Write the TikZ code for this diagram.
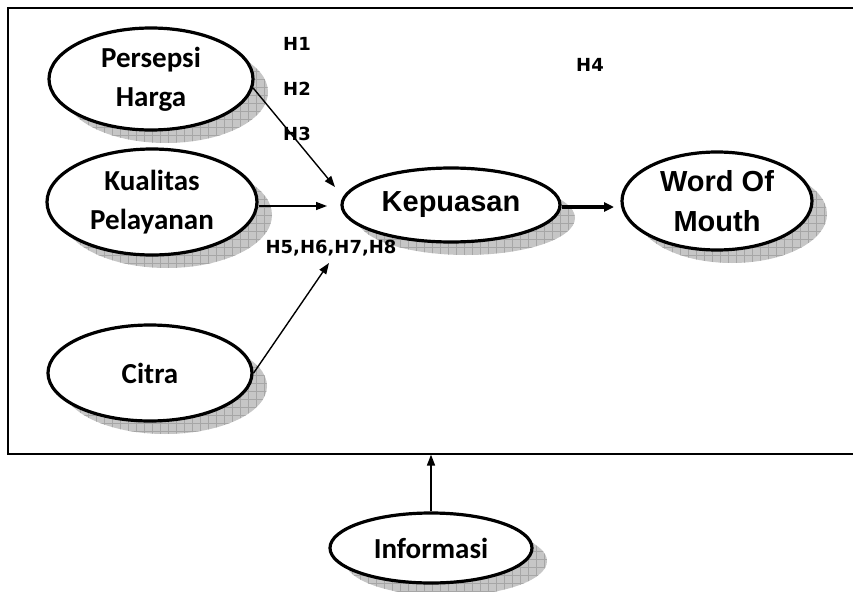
\documentclass[tikz,border=0pt]{standalone}
\usepackage{fontspec}
\setmainfont{Carlito}
\newfontfamily\arialfam{Liberation Sans}
\newfontfamily\verdfam{DejaVu Sans}
\usetikzlibrary{shapes.geometric,arrows.meta,patterns.meta}
\tikzset{
  var/.style={ellipse, draw, line width=3.2pt, fill=white, inner sep=0pt, align=center,
    font=\fontsize{29}{39}\selectfont\bfseries},
  avar/.style={var, font=\arialfam\fontsize{29}{40}\selectfont\bfseries},
  shadowfill/.style={fill=gray!45},
  shadowgridh/.style={pattern={Lines[angle=0,distance=8pt,line width=0.5pt]}, pattern color=gray!70},
  shadowgridv/.style={pattern={Lines[angle=90,distance=8pt,line width=0.5pt]}, pattern color=gray!70},
  arr/.style={line width=1.4pt, -{Triangle[length=11pt,width=8pt]}},
  thickarr/.style={line width=3.2pt, -{Triangle[length=10pt,width=9pt]}},
  hlab/.style={font=\verdfam\fontsize{18}{21}\selectfont\bfseries, inner sep=0pt},
  frame/.style={draw, line width=1.6pt, inner sep=0pt}
}
\newcommand{\shadowell}[4]{%
  \fill[shadowfill] (#1+15,#2+13) ellipse [x radius=#3, y radius=#4];
  \fill[shadowgridh] (#1+15,#2+13) ellipse [x radius=#3, y radius=#4];
  \fill[shadowgridv] (#1+15,#2+13) ellipse [x radius=#3, y radius=#4];
}
\begin{document}
\begin{tikzpicture}[x=1pt,y=-1pt]
\useasboundingbox (0,0) rectangle (853,591);
\clip (0,0) rectangle (853,591);
% frame
\node[frame, anchor=north west, minimum width=860pt, minimum height=446pt] (box) at (7,7) {};
% shadows
\shadowell{151}{79}{102}{51}
\shadowell{152}{202}{105}{53}
\shadowell{150}{373}{102}{48}
\shadowell{451}{205}{109}{37}
\shadowell{717}{201}{95}{49}
\shadowell{431}{548}{101}{35}
% variables
\node[var, minimum width=204pt, minimum height=102pt] (p) at (151,79) {Persepsi\\Harga};
\node[var, minimum width=210pt, minimum height=106pt] (k) at (152,202) {Kualitas\\Pelayanan};
\node[var, minimum width=204pt, minimum height=96pt] (c) at (150,373) {Citra};
\node[avar, minimum width=218pt, minimum height=74pt] (kep) at (451,205) {Kepuasan};
\node[avar, minimum width=190pt, minimum height=98pt] (w) at (717,201) {Word Of\\Mouth};
\node[var, minimum width=202pt, minimum height=70pt] (i) at (431,548) {Informasi};
% arrow end points
\coordinate (t1) at (335,187);
\coordinate (t2) at (327,206);
\coordinate (t3) at (329,263);
\coordinate (t4) at (614,207);
% connectors
\draw[arr] (p.-5) -- (t1);
\draw[arr] (k.east |- t2) -- (t2);
\draw[arr] (c.east) -- (t3);
\draw[thickarr] (kep.east |- t4) -- (t4);
\draw[arr, line width=1.6pt] (i.north) -- (i.north |- box.south);
% labels
\node[hlab] (h1) at (297,44) {H1};
\node[hlab] (h2) at (297,89) {H2};
\node[hlab] (h3) at (297,134) {H3};
\node[hlab] (h4) at (590,65) {H4};
\node[hlab] (h5) at (331,248) {H5,H6,H7,H8};
\end{tikzpicture}
\end{document}
